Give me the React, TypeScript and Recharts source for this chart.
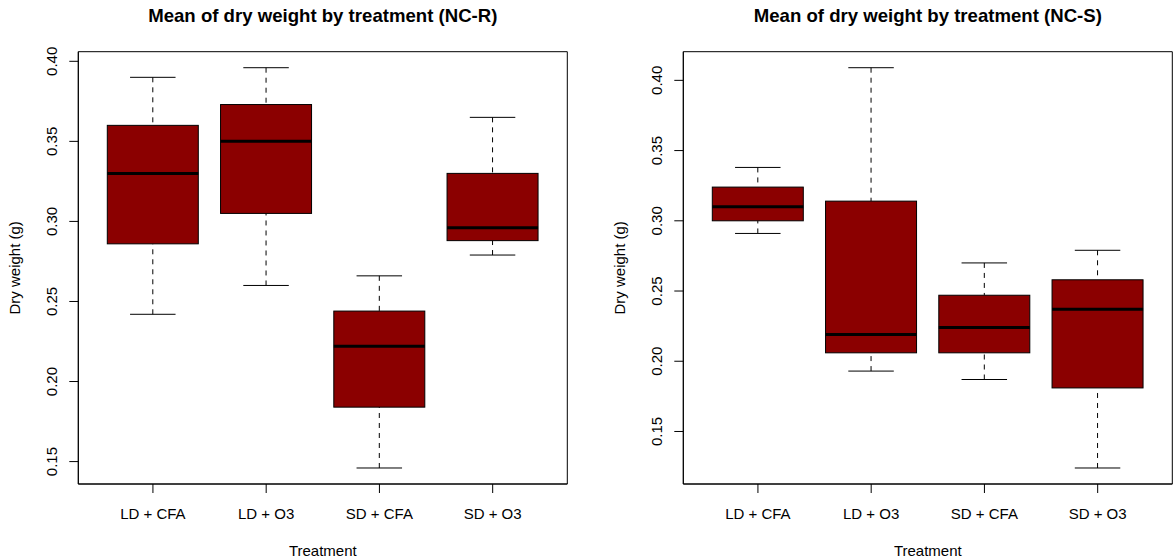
import React from 'react';
import { ComposedChart, Bar, XAxis, YAxis, CartesianGrid } from 'recharts';

// Treatment groups on the x axis
const categories = ['LD + CFA', 'LD + O3', 'SD + CFA', 'SD + O3'];
const yTicks = [0.15, 0.2, 0.25, 0.3, 0.35, 0.4];

// NC-R five-number summaries (lower whisker, Q1, median, Q3, upper whisker)
const ncrMin = [0.242, 0.26, 0.146, 0.279];
const ncrQ1 = [0.286, 0.305, 0.184, 0.288];
const ncrMedian = [0.33, 0.35, 0.222, 0.296];
const ncrQ3 = [0.36, 0.373, 0.244, 0.33];
const ncrMax = [0.39, 0.396, 0.266, 0.365];

// NC-S five-number summaries
const ncsMin = [0.291, 0.193, 0.187, 0.124];
const ncsQ1 = [0.3, 0.206, 0.206, 0.181];
const ncsMedian = [0.31, 0.219, 0.224, 0.237];
const ncsQ3 = [0.324, 0.314, 0.247, 0.258];
const ncsMax = [0.338, 0.409, 0.27, 0.279];

const FONT = '"Liberation Sans", Arial, Helvetica, sans-serif';
const BOX_FILL = '#8B0000';
const INK = '#000000';

type Row = { name: string; min: number; q1: number; median: number; q3: number; max: number };

function buildRows(mins: number[], q1s: number[], meds: number[], q3s: number[], maxs: number[]): Row[] {
  return categories.map((name, i) => ({
    name,
    min: mins[i],
    q1: q1s[i],
    median: meds[i],
    q3: q3s[i],
    max: maxs[i],
  }));
}

// Range padded by 4% on each side, like base graphics does
function paddedDomain(rows: Row[]): [number, number] {
  const lo = Math.min(...rows.map((r) => r.min));
  const hi = Math.max(...rows.map((r) => r.max));
  const pad = (hi - lo) * 0.04;
  return [lo - pad, hi + pad];
}

// Draws one box-and-whisker glyph from the bar's whisker-to-whisker range
const BoxShape = (props: any) => {
  const { x, y, width, height, payload } = props;
  const top = Math.min(y, y + height);
  const h = Math.abs(height);
  const span = payload.max - payload.min;
  const py = (v: number) => top + ((payload.max - v) / span) * h;
  const cx = x + width / 2;
  const capHalf = width / 4;
  const yMax = py(payload.max);
  const yQ3 = py(payload.q3);
  const yMed = py(payload.median);
  const yQ1 = py(payload.q1);
  const yMin = py(payload.min);
  return (
    <g>
      <line x1={cx} x2={cx} y1={yMax} y2={yQ3} stroke={INK} strokeWidth={1} strokeDasharray="5 5" />
      <line x1={cx} x2={cx} y1={yMin} y2={yQ1} stroke={INK} strokeWidth={1} strokeDasharray="5 5" />
      <line x1={cx - capHalf} x2={cx + capHalf} y1={yMax} y2={yMax} stroke={INK} strokeWidth={1} />
      <line x1={cx - capHalf} x2={cx + capHalf} y1={yMin} y2={yMin} stroke={INK} strokeWidth={1} />
      <rect x={x} y={yQ3} width={width} height={yQ1 - yQ3} fill={BOX_FILL} stroke={INK} strokeWidth={1} />
      <line x1={x} x2={x + width} y1={yMed} y2={yMed} stroke={INK} strokeWidth={3} />
    </g>
  );
};

const YTick = (props: any) => {
  const { x, y, payload } = props;
  const bx = x - 12.3;
  return (
    <text
      x={bx}
      y={y}
      transform={`rotate(-90 ${bx} ${y})`}
      textAnchor="middle"
      fontSize={15}
      fontFamily={FONT}
      fill={INK}
    >
      {Number(payload.value).toFixed(2)}
    </text>
  );
};

const XTick = (props: any) => {
  const { x, y, payload } = props;
  return (
    <text x={x} y={y + 26} textAnchor="middle" fontSize={15} fontFamily={FONT} fill={INK}>
      {payload.value}
    </text>
  );
};

type PanelProps = {
  title: string;
  rows: Row[];
  width: number;
  yAxisWidth: number;
  marginRight: number;
};

const PLOT_TOP = 51.7;
const TITLE_BASELINE = 22;
const HEIGHT = 560;
const X_AXIS_HEIGHT = 76;

// Plot frame: grid lines only on the four edges of the plotting region
const frameRows = ({ offset }: any) => [offset.top, offset.top + offset.height];
const frameCols = ({ offset }: any) => [offset.left, offset.left + offset.width];

function BoxPanel({ title, rows, width, yAxisWidth, marginRight }: PanelProps) {
  const domain = paddedDomain(rows);
  const data = rows.map((r) => ({ ...r, range: [r.min, r.max] }));
  return (
    <ComposedChart
      width={width}
      height={HEIGHT}
      data={data}
      margin={{ top: PLOT_TOP, right: marginRight, bottom: 0, left: 0 }}
    >
      <CartesianGrid
        stroke={INK}
        strokeWidth={1}
        horizontalCoordinatesGenerator={frameRows}
        verticalCoordinatesGenerator={frameCols}
      />
      <XAxis
        dataKey="name"
        type="category"
        height={X_AXIS_HEIGHT}
        padding={{ left: 18, right: 18 }}
        tick={<XTick />}
        tickSize={9}
        tickMargin={0}
        tickLine={{ stroke: INK }}
        axisLine={{ stroke: INK }}
        interval={0}
        label={(p: any) => {
          const vb = p.viewBox;
          const cx = vb.x + vb.width / 2;
          return (
            <g>
              <text
                x={cx}
                y={TITLE_BASELINE}
                textAnchor="middle"
                fontSize={18.6}
                fontWeight="bold"
                fontFamily={FONT}
                fill={INK}
              >
                {title}
              </text>
              <text x={cx} y={vb.y + 72} textAnchor="middle" fontSize={15} fontFamily={FONT} fill={INK}>
                Treatment
              </text>
            </g>
          );
        }}
      />
      <YAxis
        type="number"
        domain={domain}
        ticks={yTicks}
        width={yAxisWidth}
        tick={<YTick />}
        tickSize={9}
        tickMargin={0}
        tickLine={{ stroke: INK }}
        axisLine={{ stroke: INK }}
        allowDataOverflow
        label={(p: any) => {
          const vb = p.viewBox;
          const bx = vb.x + vb.width - 58.4;
          const cy = vb.y + vb.height / 2;
          return (
            <text
              x={bx}
              y={cy}
              transform={`rotate(-90 ${bx} ${cy})`}
              textAnchor="middle"
              fontSize={15}
              fontFamily={FONT}
              fill={INK}
            >
              Dry weight (g)
            </text>
          );
        }}
      />
      <Bar dataKey="range" barSize={91} shape={<BoxShape />} isAnimationActive={false} />
    </ComposedChart>
  );
}

const ncrRows = buildRows(ncrMin, ncrQ1, ncrMedian, ncrQ3, ncrMax);
const ncsRows = buildRows(ncsMin, ncsQ1, ncsMedian, ncsQ3, ncsMax);

export default function App() {
  return (
    <div
      style={{
        position: 'absolute',
        left: 0,
        top: 0,
        width: 1173,
        height: HEIGHT,
        background: '#ffffff',
        display: 'flex',
        overflow: 'hidden',
        fontFamily: FONT,
      }}
    >
      <BoxPanel
        title="Mean of dry weight by treatment (NC-R)"
        rows={ncrRows}
        width={586}
        yAxisWidth={78.3}
        marginRight={18.7}
      />
      <BoxPanel
        title="Mean of dry weight by treatment (NC-S)"
        rows={ncsRows}
        width={587}
        yAxisWidth={97.3}
        marginRight={0.7}
      />
    </div>
  );
}
